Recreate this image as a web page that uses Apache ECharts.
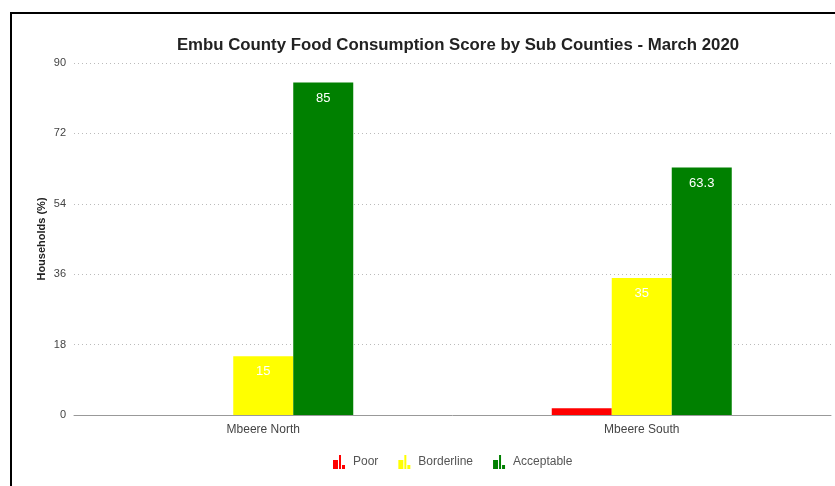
<!DOCTYPE html>
<html>
<head>
<meta charset="utf-8">
<script src="https://cdn.jsdelivr.net/npm/echarts@6/dist/echarts.min.js"></script>
<style>
  html, body { margin: 0; padding: 0; background: #fff; }
  #chart { width: 835px; height: 486px; }
</style>
</head>
<body>
<div id="chart"></div>
<script>
// Food consumption score groups per sub county (% of households)
const subCounties = ['Mbeere North', 'Mbeere South'];
const poor = [0, 1.7];
const borderline = [15, 35];
const acceptable = [85, 63.3];
const yTicks = [0, 18, 36, 54, 72, 90];

const FONT = '"Liberation Sans", Arial, Helvetica, sans-serif';
// small three-bar glyph used as the legend icon
const barIcon = 'path://M0,5H5V14H0Z M6,0H8V14H6Z M9,10H12V14H9Z';

const chart = echarts.init(document.getElementById('chart'));

function barSeries(name, data, color, showLabel) {
  return {
    name: name,
    type: 'bar',
    data: data,
    barWidth: 60,
    barGap: '0%',
    itemStyle: { color: color },
    label: {
      show: showLabel,
      position: 'insideTop',
      distance: 9,
      color: '#ffffff',
      fontSize: 13,
      fontFamily: FONT
    }
  };
}

chart.setOption({
  animation: false,
  textStyle: { fontFamily: FONT },
  title: {
    text: 'Embu County Food Consumption Score by Sub Counties - March 2020',
    left: 453,
    top: 32,
    textAlign: 'center',
    textStyle: { fontSize: 16.8, fontWeight: 'bold', color: '#222', fontFamily: FONT }
  },
  legend: {
    left: 328,
    top: 450,
    itemWidth: 12,
    itemHeight: 14,
    itemGap: 20,
    icon: barIcon,
    textStyle: { fontSize: 12, color: '#555', fontFamily: FONT, padding: [0, 0, 0, 3] },
    data: ['Poor', 'Borderline', 'Acceptable']
  },
  grid: { left: 74, right: 4, top: 63, bottom: 71 },
  xAxis: {
    type: 'category',
    data: subCounties,
    axisLine: { lineStyle: { color: '#999', width: 1 } },
    axisTick: { show: false },
    axisLabel: { fontSize: 12, color: '#444', margin: 9, fontFamily: FONT }
  },
  yAxis: {
    type: 'value',
    min: yTicks[0],
    max: yTicks[yTicks.length - 1],
    interval: yTicks[1] - yTicks[0],
    name: 'Households (%)',
    nameLocation: 'middle',
    nameGap: 27,
    nameMoveOverlap: false,
    nameTextStyle: { fontSize: 11, fontWeight: 'bold', color: '#222', fontFamily: FONT },
    axisLine: { show: false },
    axisTick: { show: false },
    axisLabel: { fontSize: 11, color: '#444', margin: 8, fontFamily: FONT },
    splitLine: { lineStyle: { type: [1, 3], color: '#bbb', width: 1 } }
  },
  series: [
    barSeries('Poor', poor, '#ff0000', false),
    barSeries('Borderline', borderline, '#ffff00', true),
    barSeries('Acceptable', acceptable, '#008000', true)
  ],
  graphic: [
    { type: 'line', shape: { x1: 10, y1: 13, x2: 835, y2: 13 }, style: { stroke: '#000', lineWidth: 2 } },
    { type: 'line', shape: { x1: 11, y1: 12, x2: 11, y2: 486 }, style: { stroke: '#000', lineWidth: 2 } }
  ]
});
</script>
</body>
</html>
